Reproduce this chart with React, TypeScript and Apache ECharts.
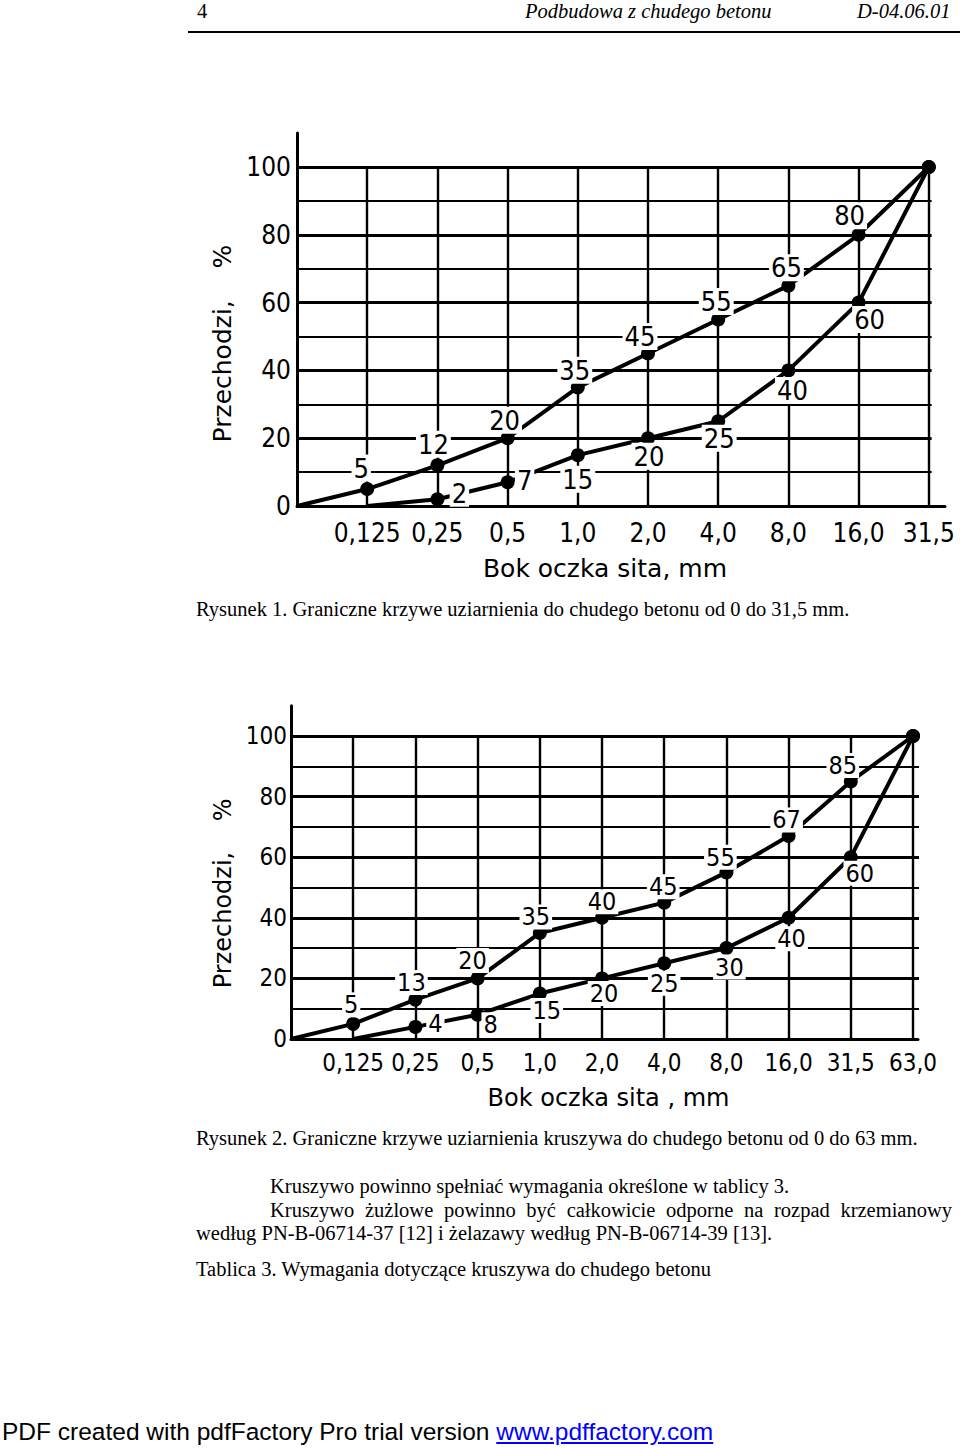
import React, { useEffect, useRef } from "react";
import * as echarts from "echarts";

// ---------- DATA ----------
const sieves1 = ["0,125", "0,25", "0,5", "1,0", "2,0", "4,0", "8,0", "16,0", "31,5"];
const upper1 = [0, 5, 12, 20, 35, 45, 55, 65, 80, 100];
const lower1 = [null, 0, 2, 7, 15, 20, 25, 40, 60, 100];

const sieves2 = ["0,125", "0,25", "0,5", "1,0", "2,0", "4,0", "8,0", "16,0", "31,5", "63,0"];
const upper2 = [0, 5, 13, 20, 35, 40, 45, 55, 67, 85, 100];
const lower2 = [null, 0, 4, 8, 15, 20, 25, 30, 40, 60, 100];

const gridLevels = [10, 20, 30, 40, 50, 60, 70, 80, 90, 100];
const yTickStep = 20;

// ---------- STYLE (label offsets in px, relative to point) ----------
const upper1Off = [null, [-6, -21], [-4, -21], [-3, -18], [-3, -17], [-8, -17], [-2, -18], [-2, -18], [-9, -19], null];
const lower1Off = [null, null, [22, -6], [17, -2], [0, 24], [1, 18], [1, 17], [4, 20], [11, 17], null];
const upper2Off = [null, [-2, -19], [-4, -17], [-5, -18], [-4, -16], [0, -16], [-1, -16], [-6, -15], [-2, -16], [-8, -16], null];
const lower2Off = [null, null, [20, -3], [13, 10], [7, 17], [2, 15], [0, 20], [3, 19], [3, 21], [9, 16], null];

const DIGIT_FONT = '"DejaVu Sans Condensed", "DejaVu Sans", sans-serif';
const NAME_FONT = '"DejaVu Sans", sans-serif';
const NB = "\u00a0";

type Layout = {
  x0: number; y0: number; ux: number; uy: number; xMax: number; yMax: number;
  hEnd: number; tick: number; lab: number; name: number;
  xLabMargin: number; yLabMargin: number; xNameGap: number; yNameGap: number;
  xNamePad: number[]; yNamePad: number[]; xName: string; yName: string;
};

const L1: Layout = {
  x0: 297, y0: 506, ux: 70.2, uy: 3.39, xMax: 9.23, yMax: 110, hEnd: 9.04,
  tick: 26, lab: 27, name: 25, xLabMargin: 14, yLabMargin: 6, xNameGap: 50, yNameGap: 50,
  xNamePad: [0, 32, 0, 0], yNamePad: [0, 48, 0, 0],
  xName: "Bok oczka sita, mm", yName: "Przechodzi," + NB + NB + NB + NB + "%",
};
const L2: Layout = {
  x0: 291, y0: 1039, ux: 62.2, uy: 3.03, xMax: 10.08, yMax: 110, hEnd: 10.1,
  tick: 24, lab: 25, name: 24, xLabMargin: 12, yLabMargin: 4, xNameGap: 47, yNameGap: 40,
  xNamePad: [0, 0, 0, 8], yNamePad: [0, 42, 0, 0],
  xName: "Bok oczka sita , mm", yName: "Przechodzi," + NB + NB + NB + NB + "%",
};

function gridFor(L: Layout) {
  return {
    left: L.x0,
    top: L.y0 - L.yMax * L.uy,
    width: L.xMax * L.ux,
    height: L.yMax * L.uy,
    containLabel: false,
  };
}

function axesFor(L: Layout, k: number, sieves: string[]) {
  const x = {
    gridIndex: k, type: "value", min: 0, max: L.xMax, interval: 1,
    splitLine: { show: false }, axisTick: { show: false },
    axisLine: { onZero: false, lineStyle: { color: "#000", width: 3 } },
    axisLabel: {
      formatter: (v: number) => (Number.isInteger(v) && v >= 1 && v <= sieves.length ? sieves[v - 1] : ""),
      color: "#000", fontSize: L.tick, fontFamily: DIGIT_FONT, margin: L.xLabMargin,
      showMinLabel: false, showMaxLabel: false,
    },
    name: L.xName, nameLocation: "middle", nameGap: L.xNameGap,
    nameTextStyle: { color: "#000", fontSize: L.name, fontFamily: NAME_FONT, padding: L.xNamePad },
  };
  const y = {
    gridIndex: k, type: "value", min: 0, max: L.yMax, interval: 10,
    splitLine: { show: false }, axisTick: { show: false },
    axisLine: { onZero: false, lineStyle: { color: "#000", width: 3 } },
    axisLabel: {
      formatter: (v: number) => (v % yTickStep === 0 && v <= 100 ? String(v) : ""),
      color: "#000", fontSize: L.tick, fontFamily: DIGIT_FONT, margin: L.yLabMargin,
      showMaxLabel: false,
    },
    name: L.yName, nameLocation: "middle", nameGap: L.yNameGap, nameRotate: 90,
    nameTextStyle: { color: "#000", fontSize: L.name, fontFamily: NAME_FONT, padding: L.yNamePad },
  };
  return { x, y };
}

function gridLinesSeries(L: Layout, k: number, n: number) {
  const data: any[] = [];
  gridLevels.forEach((g) => {
    data.push({ coords: [[0, g], [L.hEnd, g]], lineStyle: { width: g % 20 === 0 ? 3 : 2.2 } });
  });
  for (let i = 1; i <= n; i++) {
    data.push({ coords: [[i, 0], [i, 100]], lineStyle: { width: 2.4 } });
  }
  return {
    type: "lines", coordinateSystem: "cartesian2d", xAxisIndex: k, yAxisIndex: k,
    z: 1, silent: true, polyline: false, symbol: "none",
    lineStyle: { color: "#000", width: 2, opacity: 1 },
    data,
  };
}

function curveSeries(L: Layout, k: number, values: (number | null)[], offs: (number[] | null)[]) {
  const start = values.findIndex((v) => v !== null);
  const data: any[] = [];
  values.forEach((v, i) => {
    if (v === null) return;
    const off = offs[i];
    data.push({
      value: [i, v],
      symbol: i === start ? "none" : "circle",
      label: off ? { show: true, offset: off } : { show: false },
    });
  });
  return {
    type: "line", xAxisIndex: k, yAxisIndex: k, z: 5, silent: true,
    data, symbolSize: 14, showAllSymbol: true,
    itemStyle: { color: "#000" },
    lineStyle: { color: "#000", width: 4 },
    label: {
      position: "inside", color: "#000", fontSize: L.lab, fontFamily: DIGIT_FONT,
      backgroundColor: "#fff", padding: [0, 2],
      formatter: (p: any) => String(p.value[1]),
    },
  };
}

const serif = '"Liberation Serif", "Times New Roman", serif';
const BODY = 20.5;

function T(props: { x: number; y: number; size?: number; italic?: boolean; children: any; style?: any }) {
  const size = props.size ?? BODY;
  return (
    <div
      style={{
        position: "absolute", left: props.x, top: props.y - size / 2, fontFamily: serif,
        fontSize: size, lineHeight: `${size}px`, whiteSpace: "nowrap", color: "#000",
        fontStyle: props.italic ? "italic" : "normal", ...(props.style || {}),
      }}
    >
      {props.children}
    </div>
  );
}

export default function App() {
  const ref = useRef<HTMLDivElement>(null);
  useEffect(() => {
    if (!ref.current) return;
    const chart = echarts.init(ref.current, undefined, { renderer: "svg" });
    const a1 = axesFor(L1, 0, sieves1);
    const a2 = axesFor(L2, 1, sieves2);
    chart.setOption({
      animation: false,
      backgroundColor: "#fff",
      grid: [gridFor(L1), gridFor(L2)],
      xAxis: [a1.x, a2.x],
      yAxis: [a1.y, a2.y],
      series: [
        gridLinesSeries(L1, 0, sieves1.length),
        curveSeries(L1, 0, upper1, upper1Off),
        curveSeries(L1, 0, lower1, lower1Off),
        gridLinesSeries(L2, 1, sieves2.length),
        curveSeries(L2, 1, upper2, upper2Off),
        curveSeries(L2, 1, lower2, lower2Off),
      ],
    });
    return () => chart.dispose();
  }, []);

  return (
    <div style={{ position: "absolute", left: 0, top: 0, width: 960, height: 1448, background: "#fff" }}>
      <div ref={ref} style={{ position: "absolute", left: 0, top: 0, width: 960, height: 1448 }} />
      <T x={197} y={11}>4</T>
      <T x={525} y={11} italic>Podbudowa z chudego betonu</T>
      <T x={857} y={11} italic>D-04.06.01</T>
      <div style={{ position: "absolute", left: 188, top: 31, width: 772, height: 2, background: "#000" }} />
      <T x={196} y={609}>Rysunek 1. Graniczne krzywe uziarnienia do chudego betonu od 0 do 31,5 mm.</T>
      <T x={196} y={1138}>Rysunek 2. Graniczne krzywe uziarnienia kruszywa do chudego betonu od 0 do 63 mm.</T>
      <T x={270} y={1186}>Kruszywo powinno spełniać wymagania określone w tablicy 3.</T>
      <T x={270} y={1210} style={{ width: 682, textAlign: "justify", textAlignLast: "justify", whiteSpace: "normal" }}>
        Kruszywo żużlowe powinno być całkowicie odporne na rozpad krzemianowy
      </T>
      <T x={196} y={1233}>według PN-B-06714-37 [12] i żelazawy według PN-B-06714-39 [13].</T>
      <T x={196} y={1269}>Tablica 3. Wymagania dotyczące kruszywa do chudego betonu</T>
      <div
        style={{
          position: "absolute", left: 2, top: 1420, fontFamily: '"Liberation Sans", Arial, sans-serif',
          fontSize: 24.5, lineHeight: "24.5px", whiteSpace: "nowrap", color: "#000",
        }}
      >
        PDF created with pdfFactory Pro trial version{" "}
        <span style={{ color: "#0000ff", textDecoration: "underline" }}>www.pdffactory.com </span>
      </div>
    </div>
  );
}
